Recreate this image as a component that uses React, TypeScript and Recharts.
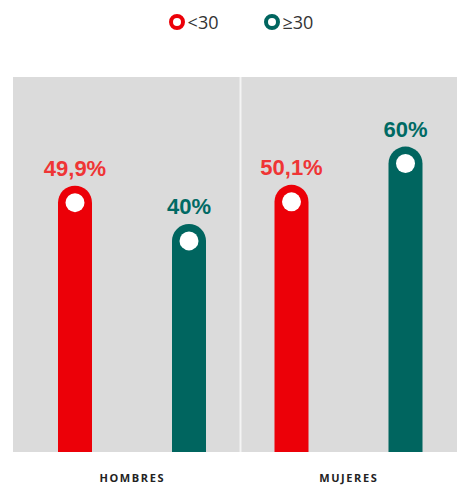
import { BarChart, Bar, XAxis, YAxis, CartesianGrid, LabelList, ReferenceLine } from 'recharts'

const categories = ['HOMBRES', 'MUJERES']
const under30 = [49.9, 50.1]
const over30 = [40, 60]

// the bars do not start at zero in the original, so the axis floor sits below it
const Y_MIN = -19
const Y_MAX = 78

const RED = '#ec0008'
const RED_LABEL = '#ef3535'
const TEAL = '#00655f'
const TEAL_LABEL = '#006a64'

const data = categories.map((name, i) => ({
  name,
  under30: under30[i],
  over30: over30[i],
}))

const fmt = (v: number) => String(v).replace('.', ',') + '%'

function PinBar(props: any) {
  const { x, y, width, height, fill } = props
  if (!height || height <= 0) return null
  const r = width / 2
  const d = `M${x},${y + height} L${x},${y + r} A${r},${r} 0 0 1 ${x + width},${y + r} L${x + width},${y + height} Z`
  return (
    <g>
      <path d={d} fill={fill} />
      <circle cx={x + r} cy={y + 17} r={9.5} fill="#fff" />
    </g>
  )
}

function LegendRow() {
  const items = [
    { label: '<30', color: RED },
    { label: '≥30', color: TEAL },
  ]
  return (
    <div
      style={{
        position: 'absolute',
        top: 11,
        left: 0,
        width: 457,
        display: 'flex',
        justifyContent: 'center',
        gap: 44,
        paddingLeft: 24,
        boxSizing: 'border-box',
        fontFamily: 'Open Sans, sans-serif',
      }}
    >
      {items.map((it) => (
        <div key={it.label} style={{ display: 'flex', alignItems: 'center', gap: 2 }}>
          <svg width={18} height={18}>
            <circle cx={9} cy={9} r={6} fill="none" stroke={it.color} strokeWidth={4} />
          </svg>
          <span style={{ fontSize: 18, lineHeight: '22px', color: '#333' }}>{it.label}</span>
        </div>
      ))}
    </div>
  )
}

function CategoryTick(props: any) {
  const { x, y, payload } = props
  return (
    <text
      x={x}
      y={y}
      dy="0.71em"
      textAnchor="middle"
      fontSize={11}
      fontWeight={700}
      fill="#222"
      letterSpacing={1.6}
      fontFamily="Open Sans, sans-serif"
    >
      {payload.value}
    </text>
  )
}

export default function App() {
  return (
    <div style={{ position: 'fixed', left: 0, top: 0, width: 457, height: 486, background: '#fff' }}>
      <LegendRow />
      <BarChart
        width={457}
        height={486}
        data={data}
        margin={{ top: 77, right: 0, bottom: 4, left: 13 }}
        barSize={34}
        barGap={80}
      >
        <CartesianGrid fill="#dbdbdb" horizontal={false} vertical={false} />
        <XAxis
          dataKey="name"
          height={30}
          axisLine={false}
          tickLine={false}
          tickSize={0}
          tickMargin={22}
          padding={{ left: 11, right: 0 }}
          tick={<CategoryTick />}
        />
        <YAxis hide domain={[Y_MIN, Y_MAX]} />
        <ReferenceLine x="MUJERES" position="start" stroke="#f4f4f4" strokeWidth={2} />
        <Bar
          dataKey={(d: any) => [Y_MIN, d.under30]}
          name="<30"
          fill={RED}
          shape={<PinBar />}
          isAnimationActive={false}
        >
          <LabelList
            dataKey="under30"
            position="top"
            offset={10}
            formatter={(v: any) => fmt(v)}
            style={{ fontSize: 22, fontWeight: 700, fill: RED_LABEL, fontFamily: 'Liberation Sans, Arial, sans-serif' }}
          />
        </Bar>
        <Bar
          dataKey={(d: any) => [Y_MIN, d.over30]}
          name="≥30"
          fill={TEAL}
          shape={<PinBar />}
          isAnimationActive={false}
        >
          <LabelList
            dataKey="over30"
            position="top"
            offset={10}
            formatter={(v: any) => fmt(v)}
            style={{ fontSize: 22, fontWeight: 700, fill: TEAL_LABEL, fontFamily: 'Liberation Sans, Arial, sans-serif' }}
          />
        </Bar>
      </BarChart>
    </div>
  )
}
